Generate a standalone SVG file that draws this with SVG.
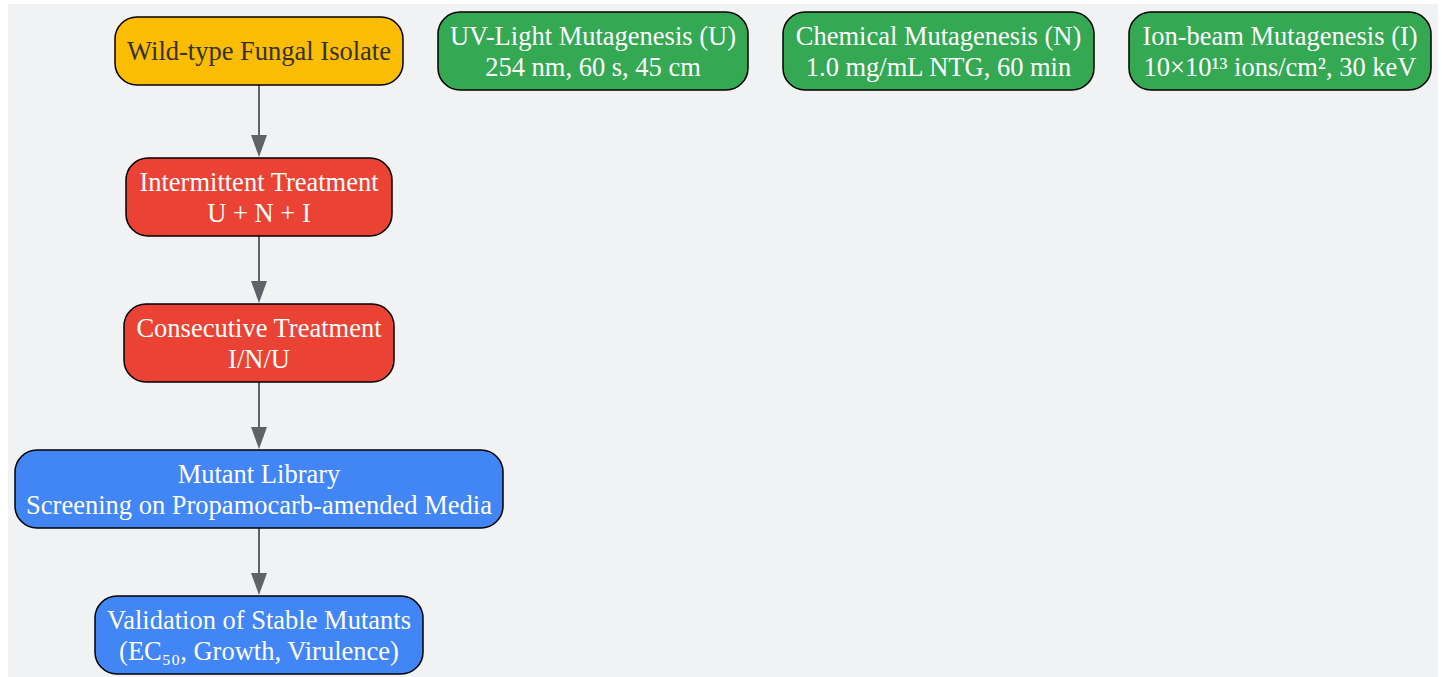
<svg xmlns="http://www.w3.org/2000/svg" width="1442" height="677" viewBox="0 0 1442 677">
<style>
.n{stroke:#000;stroke-width:1.5}
.t{font-family:"Liberation Serif","Times New Roman",serif;font-size:26.5px;text-anchor:middle;fill:#fff}
.d{fill:#333}
.c{stroke:#5f6368;stroke-width:2;fill:none}
.h{fill:#5f6368}
</style>
<rect x="0" y="0" width="1442" height="677" fill="#fff"/>
<rect x="8" y="4" width="1430" height="673" fill="#f1f2f4"/>
<g id="connectors">
<line class="c" x1="259" y1="85" x2="259" y2="140"/>
<line class="c" x1="259" y1="236" x2="259" y2="286"/>
<line class="c" x1="259" y1="382" x2="259" y2="432"/>
<line class="c" x1="259" y1="528" x2="259" y2="578"/>
<path class="h" d="M251,135L267,135L259,157z"/>
<path class="h" d="M251,281L267,281L259,303z"/>
<path class="h" d="M251,427L267,427L259,449z"/>
<path class="h" d="M251,573L267,573L259,595z"/>
</g>
<g id="wild">
<rect class="n" x="115" y="17" width="288" height="68" rx="22" fill="#fbbc04"/>
<text class="t d" x="259" y="60">Wild-type Fungal Isolate</text>
</g>
<g id="uv">
<rect class="n" x="438" y="12" width="310" height="78" rx="22" fill="#34a853"/>
<text class="t" x="593" y="45">UV-Light Mutagenesis (U)</text>
<text class="t" x="593" y="76">254 nm, 60 s, 45 cm</text>
</g>
<g id="chem">
<rect class="n" x="783" y="12" width="311" height="78" rx="22" fill="#34a853"/>
<text class="t" x="938.5" y="45">Chemical Mutagenesis (N)</text>
<text class="t" x="938.5" y="76">1.0 mg/mL NTG, 60 min</text>
</g>
<g id="ion">
<rect class="n" x="1129" y="12" width="302" height="78" rx="22" fill="#34a853"/>
<text class="t" x="1280" y="45">Ion-beam Mutagenesis (I)</text>
<text class="t" x="1280" y="76">10×10¹³ ions/cm², 30 keV</text>
</g>
<g id="intermittent">
<rect class="n" x="126" y="158" width="266" height="78" rx="22" fill="#ea4335"/>
<text class="t" x="259" y="191">Intermittent Treatment</text>
<text class="t" x="259" y="222">U + N + I</text>
</g>
<g id="consecutive">
<rect class="n" x="124" y="304" width="270" height="78" rx="22" fill="#ea4335"/>
<text class="t" x="259" y="337">Consecutive Treatment</text>
<text class="t" x="259" y="368">I/N/U</text>
</g>
<g id="library">
<rect class="n" x="15" y="450" width="488" height="78" rx="22" fill="#4285f4"/>
<text class="t" x="259" y="483">Mutant Library</text>
<text class="t" x="259" y="514">Screening on Propamocarb-amended Media</text>
</g>
<g id="validation">
<rect class="n" x="95" y="596" width="328" height="78" rx="22" fill="#4285f4"/>
<text class="t" x="259" y="629">Validation of Stable Mutants</text>
<text class="t" x="259" y="660">(EC₅₀, Growth, Virulence)</text>
</g>
</svg>
